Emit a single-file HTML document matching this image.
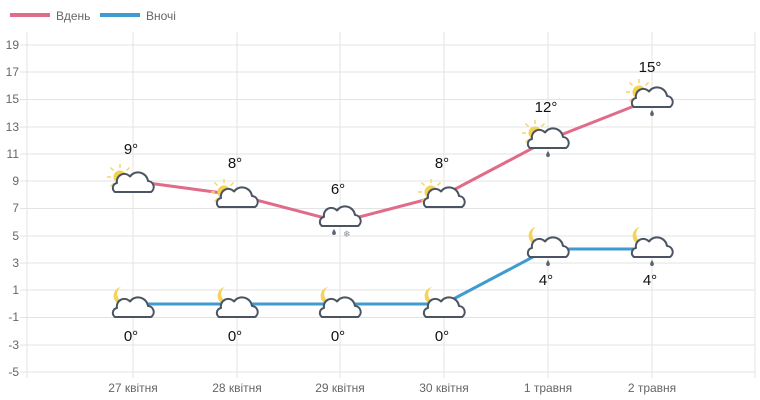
<!DOCTYPE html>
<html><head><meta charset="utf-8"><style>
html,body{margin:0;padding:0;background:#fff}
svg{display:block;font-family:"Liberation Sans",sans-serif}
</style></head><body>
<svg width="760" height="400" xmlns="http://www.w3.org/2000/svg">
<defs>
<g id="cloud"><path d="M-18,0 H18 A6,6 0 0 0 15,-11 A10,10 0 0 0 -3,-15.5 A7.5,7.5 0 0 0 -16,-9 A5,5 0 0 0 -18,0 Z" fill="#fff" stroke="#4a5462" stroke-width="2" stroke-linejoin="round"/></g>
<g id="sun"><g stroke="#f6d66a" stroke-width="1.5"><line x1="-13" y1="-24" x2="-13" y2="-28"/><line x1="-22" y1="-15" x2="-26" y2="-15"/><line x1="-19.5" y1="-21.5" x2="-22.5" y2="-24.5"/><line x1="-6.5" y1="-21.5" x2="-3.5" y2="-24.5"/><line x1="-19.5" y1="-8.5" x2="-22.5" y2="-5.5"/></g><circle cx="-13" cy="-15" r="6.5" fill="#f5d14e"/></g>
<g id="moon"><path d="M-12,-30 A9,9 0 1 0 -3,-16 A7,7 0 0 1 -12,-30 Z" fill="#f3d35a"/></g>
<g id="drop"><path d="M0,3 C-2.5,6.5 -2.5,9 0,9 C2.5,9 2.5,6.5 0,3 Z" fill="#5a6470"/></g>
</defs>
<g stroke="#e3e3e3" stroke-width="1">
<line x1="20" y1="45" x2="755" y2="45"/><line x1="20" y1="72" x2="755" y2="72"/><line x1="20" y1="99.5" x2="755" y2="99.5"/><line x1="20" y1="127" x2="755" y2="127"/><line x1="20" y1="154" x2="755" y2="154"/><line x1="20" y1="181" x2="755" y2="181"/><line x1="20" y1="208.5" x2="755" y2="208.5"/><line x1="20" y1="236" x2="755" y2="236"/><line x1="20" y1="263" x2="755" y2="263"/><line x1="20" y1="290" x2="755" y2="290"/><line x1="20" y1="317.5" x2="755" y2="317.5"/><line x1="20" y1="345" x2="755" y2="345"/><line x1="20" y1="372" x2="755" y2="372"/>
<line x1="27" y1="32" x2="27" y2="378"/><line x1="133" y1="32" x2="133" y2="378"/><line x1="237" y1="32" x2="237" y2="378"/><line x1="340" y1="32" x2="340" y2="378"/><line x1="444" y1="32" x2="444" y2="378"/><line x1="548" y1="32" x2="548" y2="378"/><line x1="652" y1="32" x2="652" y2="378"/><line x1="755" y1="32" x2="755" y2="378"/>
</g>
<g font-size="12" fill="#666" text-anchor="end">
<text x="19" y="49">19</text><text x="19" y="76">17</text><text x="19" y="103">15</text><text x="19" y="131">13</text><text x="19" y="158">11</text><text x="19" y="185">9</text><text x="19" y="212">7</text><text x="19" y="240">5</text><text x="19" y="267">3</text><text x="19" y="294">1</text><text x="19" y="321">-1</text><text x="19" y="349">-3</text><text x="19" y="376">-5</text>
</g>
<g font-size="12" fill="#666" text-anchor="middle">
<text x="133" y="392">27 квітня</text><text x="237" y="392">28 квітня</text><text x="340" y="392">29 квітня</text><text x="444" y="392">30 квітня</text><text x="548" y="392">1 травня</text><text x="652" y="392">2 травня</text>
</g>
<rect x="10" y="13" width="40" height="4" fill="#e06c88"/><text x="56" y="20" font-size="12" fill="#666">Вдень</text>
<rect x="100" y="13" width="40" height="4" fill="#3f9bd0"/><text x="146" y="20" font-size="12" fill="#666">Вночі</text>
<polyline points="133,181 237,195 340,222 444,195 548,140 652,99" fill="none" stroke="#e06c88" stroke-width="3"/>
<polyline points="133,304 237,304 340,304 444,304 548,249 652,249" fill="none" stroke="#3f9bd0" stroke-width="3"/>
<g transform="translate(133,192)"><use href="#sun"/><use href="#cloud"/></g>
<g transform="translate(237,207)"><use href="#sun"/><use href="#cloud"/></g>
<g transform="translate(340,226)"><use href="#cloud"/><use href="#drop" x="-6"/><text x="3" y="11" font-size="9" fill="#8a93a0">❄</text></g>
<g transform="translate(444,207)"><use href="#sun"/><use href="#cloud"/></g>
<g transform="translate(548,148)"><use href="#sun"/><use href="#cloud"/><use href="#drop"/></g>
<g transform="translate(652,107)"><use href="#sun"/><use href="#cloud"/><use href="#drop"/></g>
<g transform="translate(133,317)"><use href="#moon"/><use href="#cloud"/></g>
<g transform="translate(237,317)"><use href="#moon"/><use href="#cloud"/></g>
<g transform="translate(340,317)"><use href="#moon"/><use href="#cloud"/></g>
<g transform="translate(444,317)"><use href="#moon"/><use href="#cloud"/></g>
<g transform="translate(548,257)"><use href="#moon"/><use href="#cloud"/><use href="#drop"/></g>
<g transform="translate(652,257)"><use href="#moon"/><use href="#cloud"/><use href="#drop"/></g>
<g font-size="15" fill="#111" text-anchor="middle">
<text x="131" y="154">9°</text><text x="235" y="168">8°</text><text x="338" y="194">6°</text><text x="442" y="168">8°</text><text x="546" y="112">12°</text><text x="650" y="72">15°</text>
<text x="131" y="341">0°</text><text x="235" y="341">0°</text><text x="338" y="341">0°</text><text x="442" y="341">0°</text><text x="546" y="285">4°</text><text x="650" y="285">4°</text>
</g>
</svg>
</body></html>
